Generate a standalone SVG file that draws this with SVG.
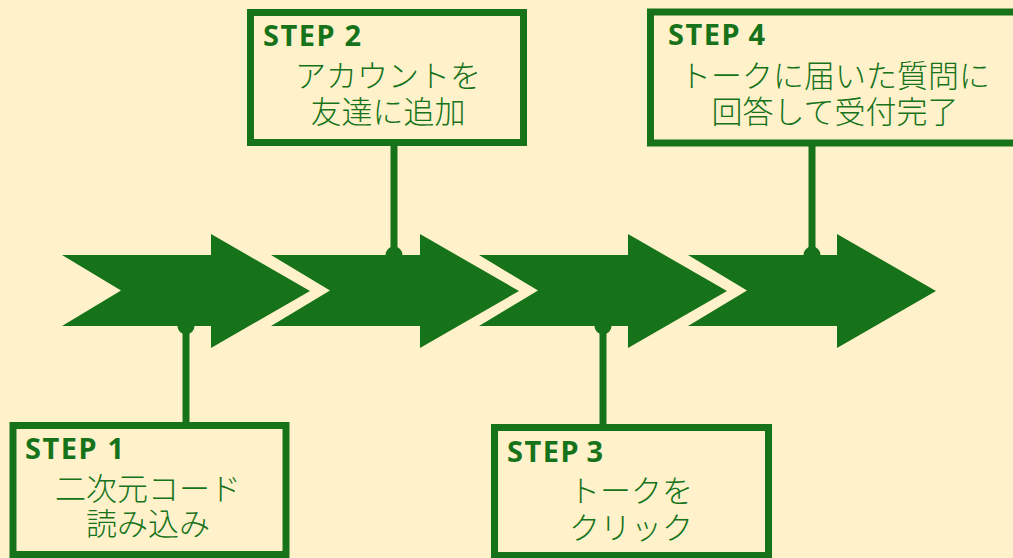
<svg xmlns="http://www.w3.org/2000/svg" width="1013" height="558" viewBox="0 0 1013 558">
<style>
.bg{fill:#FFF2CA}
.arrow{fill:#16731A}
.box{fill:#FFF2CA;stroke:#16731A;stroke-width:7}
.link{stroke:#16731A;stroke-width:7;fill:none}
.dot{fill:#16731A}
.step{font-family:"Noto Sans","Noto Sans CJK JP",sans-serif;font-weight:700;font-size:29px;fill:#16731A}
.sw{letter-spacing:1.5px}
.lbl{font-family:"Noto Sans CJK JP",sans-serif;font-weight:300;font-size:31px;fill:#16731A;text-anchor:middle}
</style>
<defs>
<path id="arr" d="M0,255 L149,255 L149,234 L248,291 L149,348 L149,326 L0,326 L59,290.5 Z"/>
</defs>
<rect class="bg" x="0" y="0" width="1013" height="558"/>
<g id="arrows" class="arrow">
<use href="#arr" x="62"/>
<use href="#arr" x="271"/>
<use href="#arr" x="479"/>
<use href="#arr" x="688"/>
</g>
<g id="connectors">
<line class="link" x1="186" y1="326" x2="186" y2="424"/>
<circle class="dot" cx="186" cy="326" r="8.5"/>
<line class="link" x1="394" y1="143" x2="394" y2="255"/>
<circle class="dot" cx="394" cy="255" r="8.5"/>
<line class="link" x1="603" y1="326" x2="603" y2="426"/>
<circle class="dot" cx="603" cy="326" r="8.5"/>
<line class="link" x1="812" y1="143" x2="812" y2="255"/>
<circle class="dot" cx="812" cy="255" r="8.5"/>
</g>
<g id="step1">
<rect class="box" x="13" y="425.5" width="273" height="129"/>
<text class="step" x="25" y="459"><tspan class="sw">STEP</tspan><tspan x="107.5">1</tspan></text>
<text class="lbl"><tspan x="148" y="500">二次元コード</tspan><tspan x="148" y="535">読み込み</tspan></text>
</g>
<g id="step2">
<rect class="box" x="250.5" y="12.5" width="273" height="130"/>
<text class="step" x="263" y="46"><tspan class="sw">STEP</tspan><tspan x="344.5">2</tspan></text>
<text class="lbl"><tspan x="388" y="87">アカウントを</tspan><tspan x="388" y="123">友達に追加</tspan></text>
</g>
<g id="step3">
<rect class="box" x="494.5" y="427.5" width="274" height="128"/>
<text class="step" x="507" y="462"><tspan class="sw">STEP</tspan><tspan x="586.5">3</tspan></text>
<text class="lbl"><tspan x="631" y="502">トークを</tspan><tspan x="631" y="539">クリック</tspan></text>
</g>
<g id="step4">
<rect class="box" x="650.5" y="12" width="370" height="131"/>
<text class="step" x="668" y="45"><tspan class="sw">STEP</tspan><tspan x="748.5">4</tspan></text>
<text class="lbl"><tspan x="835" y="87">トークに届いた質問に</tspan><tspan x="835" y="123">回答して受付完了</tspan></text>
</g>
</svg>
